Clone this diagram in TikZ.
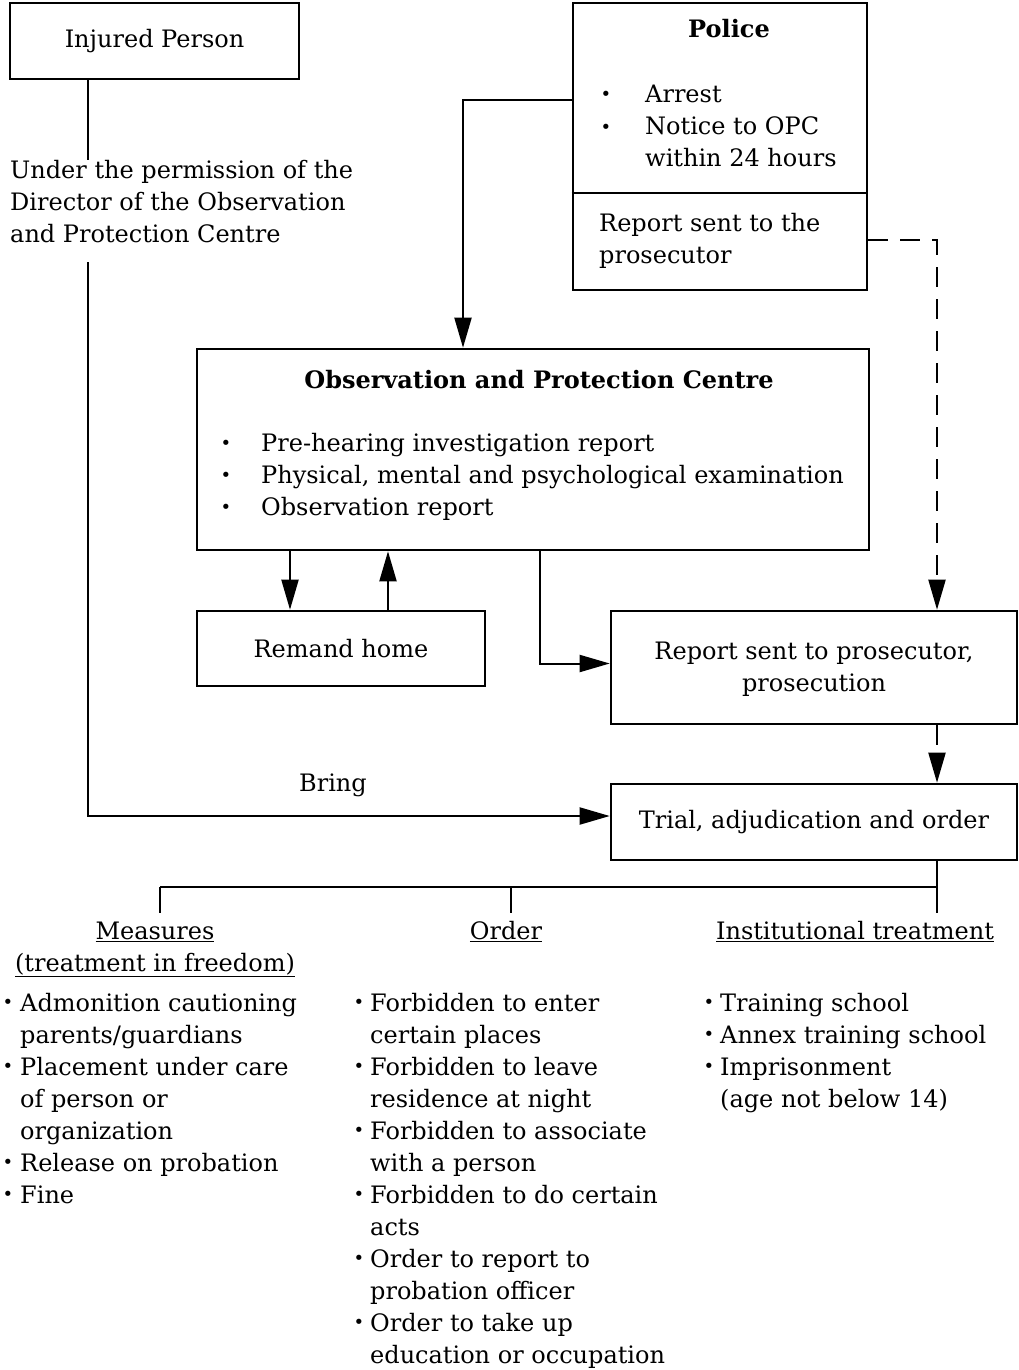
\documentclass[tikz,border=0pt]{standalone}
\usepackage{fontspec}
\setmainfont{DejaVu Serif}
\usetikzlibrary{arrows.meta}
\newcommand{\myfs}{\fontsize{24}{32}\selectfont}
\newcommand{\bulfs}{\fontsize{18}{18}\selectfont}
\begin{document}
\begin{tikzpicture}[x=1pt,y=-1pt,
 box/.style={draw, line width=2.6pt, inner sep=0pt},
 conn/.style={line width=2pt},
 arr/.style={conn, -{Triangle[length=30pt,width=17pt]}},
 dsh/.style={arr, dash pattern=on 20pt off 12pt},
 txt/.style={font=\myfs, inner sep=0pt, anchor=base west},
 ctxt/.style={font=\myfs, inner sep=0pt, anchor=base},
 bul/.style={font=\bulfs, inner sep=0pt, anchor=base},
]
\useasboundingbox (0,0) rectangle (1019,1370);
% boxes
\node[box, minimum width=289pt, minimum height=76pt, font=\myfs] (ip) at (154.5,41) {Injured Person};
\node[box, minimum width=294pt, minimum height=287pt] (police) at (720,146.5) {};
\node[box, minimum width=672pt, minimum height=201pt] (opc) at (533,449.5) {};
\node[box, minimum width=288pt, minimum height=75pt, font=\myfs] (remand) at (341,648.5) {Remand home};
\node[box, minimum width=406pt, minimum height=113pt] (report) at (814,667.5) {};
\node[box, minimum width=406pt, minimum height=76pt, font=\myfs] (trial) at (814,822) {Trial, adjudication and order};
\coordinate (pd) at (0,193);
\draw[line width=2.6pt] (police.west |- pd) -- (police.east |- pd);
% police text
\node[ctxt] (poltitle) at (729,38) {\textbf{Police}};
\node[bul] (pb1) at (606,101) {•};
\node[bul] (pb2) at (606,133) {•};
\node[txt] (pt1) at (645,103) {Arrest};
\node[txt] (pt2) at (645,135) {Notice to OPC};
\node[txt] (pt3) at (645,166) {within 24 hours};
\node[txt] (pr1) at (599,231) {Report sent to the};
\node[txt] (pr2) at (599,263) {prosecutor};
% under permission
\node[txt] (up1) at (10,178) {Under the permission of the};
\node[txt] (up2) at (10,210) {Director of the Observation};
\node[txt] (up3) at (10,242) {and Protection Centre};
% OPC text
\node[ctxt] (opctitle) at (539,388) {\textbf{Observation and Protection Centre}};
\node[bul] (ob1) at (226,449) {•};
\node[bul] (ob2) at (226,481) {•};
\node[bul] (ob3) at (226,513) {•};
\node[txt] (ot1) at (261,451) {Pre-hearing investigation report};
\node[txt] (ot2) at (261,483) {Physical, mental and psychological examination};
\node[txt] (ot3) at (261,515) {Observation report};
% report text
\node[ctxt] (rt1) at (814,659) {Report sent to prosecutor,};
\node[ctxt] (rt2) at (814,691) {prosecution};
\node[ctxt] (bring) at (333,791) {Bring};
% headings
\node[ctxt] (meas1) at (155,939) {\underline{Measures}};
\node[ctxt] (meas2) at (155,971) {\underline{(treatment in freedom)}};
\node[ctxt] (ord) at (506,939) {\underline{Order}};
\node[ctxt] (inst) at (855,939) {\underline{Institutional treatment}};
% columns
\foreach \t [count=\i from 0] in {Admonition cautioning,parents/guardians,Placement under care,of person or,organization,Release on probation,Fine}
  \node[txt] (a\i) at (20,1011+32*\i) {\t};
\foreach \i in {0,2,5,6} \node[bul] (ab\i) at (8,1008+32*\i) {•};
\foreach \t [count=\i from 0] in {Forbidden to enter,certain places,Forbidden to leave,residence at night,Forbidden to associate,with a person,Forbidden to do certain,acts,Order to report to,probation officer,Order to take up,education or occupation}
  \node[txt] (b\i) at (370,1011+32*\i) {\t};
\foreach \i in {0,2,4,6,8,10} \node[bul] (bb\i) at (359,1008+32*\i) {•};
\foreach \t [count=\i from 0] in {Training school,Annex training school,Imprisonment,(age not below 14)}
  \node[txt] (c\i) at (720,1011+32*\i) {\t};
\foreach \i in {0,1,2} \node[bul] (cb\i) at (709,1008+32*\i) {•};
% helper coordinates
\coordinate (u1) at (88,160);
\coordinate (u2) at (88,262);
\coordinate (x463) at (463,0);
\coordinate (x937) at (937,0);
\coordinate (x290) at (290,0);
\coordinate (x388) at (388,0);
\coordinate (x540) at (540,0);
\coordinate (h1) at (160,887);
\coordinate (h2) at (511,887);
\coordinate (h3) at (937,887);
\coordinate (e1) at (160,913);
\coordinate (e2) at (511,913);
\coordinate (e3) at (937,913);
% connectors
\draw[conn] (ip.south -| u1) -- (u1);
\draw[arr] (u2) |- ([yshift=6pt]trial.west);
\draw[arr] ([yshift=46.5pt]police.west) -| (opc.north -| x463);
\draw[dsh] ([yshift=-93.5pt]police.east) -| (report.north -| x937);
\draw[dsh] (report.south -| x937) -- (trial.north -| x937);
\draw[arr] (opc.south -| x290) -- (remand.north -| x290);
\draw[arr] (remand.north -| x388) -- (opc.south -| x388);
\draw[arr] (opc.south -| x540) |- ([yshift=4pt]report.west);
\draw[conn] (trial.south -| x937) -- (e3);
\draw[conn] (h1) -- (h3);
\draw[conn] (h1) -- (e1);
\draw[conn] (h2) -- (e2);
\end{tikzpicture}
\end{document}
